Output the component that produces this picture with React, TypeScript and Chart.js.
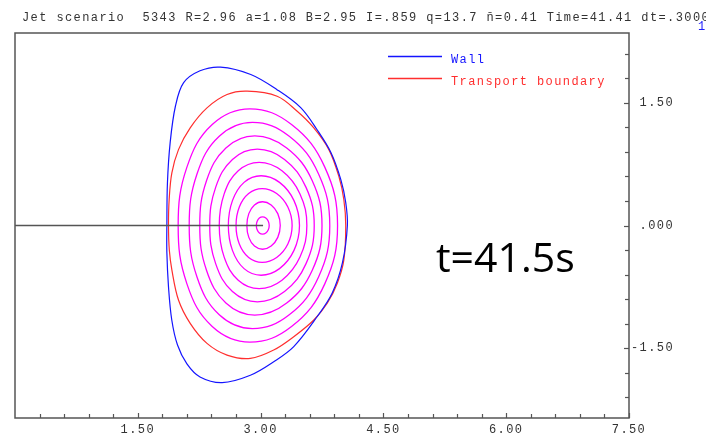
import React, { useEffect, useRef } from 'react';
import { Chart, registerables } from 'chart.js';

Chart.register(...registerables);

// ---------- texts ----------
const TITLE = 'Jet scenario  5343 R=2.96 a=1.08 B=2.95 I=.859 q=13.7 n\u0304=0.41 Time=41.41 dt=.3000';
const TIME_LABEL = 't=41.5s';
const CORNER_LABEL = '1';

// ---------- axes ----------
const xMin = 0;
const xMax = 7.5;
const yMin = -2.352;
const yMax = 2.352;
const tickStep = 0.3;
const xMajorTicks = [1.5, 3.0, 4.5, 6.0, 7.5];
const xMajorLabels = ['1.50', '3.00', '4.50', '6.00', '7.50'];
const yMajorTicks = [-1.5, 0, 1.5];
const yMajorLabels = ['-1.50', '.000', '1.50'];

// ---------- wall (R, Z) ----------
const wallR = [4.06, 4.04, 3.98, 3.86, 3.69, 3.49, 3.20, 2.88, 2.51, 2.26, 2.06, 1.96, 1.895, 1.862,
  1.855, 1.855, 1.875, 1.915, 1.985, 2.10, 2.26, 2.53, 2.875, 3.16, 3.405, 3.69, 3.875, 4.00];
const wallZ = [0.0, 0.28, 0.56, 0.89, 1.17, 1.44, 1.66, 1.845, 1.935, 1.89, 1.745, 1.46, 1.01, 0.52,
  0.0, -0.33, -0.75, -1.155, -1.46, -1.69, -1.85, -1.92, -1.83, -1.665, -1.48, -1.115, -0.825, -0.455];

// ---------- transport boundary (R, Z) ----------
const boundaryR = [4.04, 4.017, 3.956, 3.834, 3.65, 3.447, 3.202, 2.835, 2.59, 2.345, 2.14, 1.997, 1.916, 1.883,
  1.875, 1.885, 1.916, 1.997, 2.14, 2.345, 2.59, 2.875, 3.16, 3.405, 3.65, 3.814, 3.937, 4.017];
const boundaryZ = [0.0, 0.315, 0.60, 0.927, 1.193, 1.396, 1.58, 1.641, 1.60, 1.437, 1.193, 0.927, 0.642, 0.315,
  0.0, -0.30, -0.542, -0.91, -1.195, -1.44, -1.583, -1.624, -1.522, -1.359, -1.155, -0.95, -0.705, -0.42];

// ---------- inner flux surfaces, upper half from outboard midplane to inboard midplane ----------
// (lower half is the mirror image)  outermost -> innermost
const surfR = [
  [3.940, 3.784, 3.378, 2.869, 2.409, 2.100, 1.993],
  [3.845, 3.708, 3.350, 2.901, 2.495, 2.223, 2.128],
  [3.750, 3.631, 3.319, 2.929, 2.576, 2.339, 2.257],
  [3.655, 3.555, 3.292, 2.960, 2.656, 2.451, 2.379],
  [3.565, 3.481, 3.261, 2.982, 2.727, 2.555, 2.495],
  [3.475, 3.408, 3.231, 3.006, 2.798, 2.656, 2.606],
  [3.385, 3.333, 3.196, 3.019, 2.854, 2.740, 2.700],
  [3.240, 3.210, 3.129, 3.024, 2.925, 2.856, 2.832],
  [3.105, 3.094, 3.064, 3.024, 2.985, 2.958, 2.948],
];
const surfZ = [
  [0, 0.713, 1.234, 1.425, 1.234, 0.713, 0],
  [0, 0.630, 1.091, 1.260, 1.091, 0.630, 0],
  [0, 0.547, 0.947, 1.094, 0.947, 0.547, 0],
  [0, 0.466, 0.807, 0.932, 0.807, 0.466, 0],
  [0, 0.386, 0.668, 0.771, 0.668, 0.386, 0],
  [0, 0.304, 0.527, 0.608, 0.527, 0.304, 0],
  [0, 0.225, 0.390, 0.450, 0.390, 0.225, 0],
  [0, 0.145, 0.251, 0.290, 0.251, 0.145, 0],
  [0, 0.053, 0.092, 0.106, 0.092, 0.053, 0],
];

// ---------- midplane chord to magnetic axis ----------
const chordR = [0, 3.03];
const chordZ = [0, 0];

const WALL_COLOR = '#1414ff';
const BOUNDARY_COLOR = '#ff2e2e';
const SURFACE_COLOR = '#ff00ff';
const CHORD_COLOR = '#555555';
const TEXT_COLOR = '#333333';
const MONO = '12px "Liberation Mono"';
const SPACING = '1.4px';

type P = [number, number];

function zip(r: number[], z: number[]): P[] {
  return r.map((v, i) => [v, z[i]] as P);
}

function surfacePoints(i: number): P[] {
  const upper = zip(surfR[i], surfZ[i]);
  const lower = upper.slice(1, upper.length - 1).reverse().map(([r, z]) => [r, -z] as P);
  return [...upper, ...lower];
}

// closed loop with one extra point on each end so the spline is smooth at the seam;
// the two extra segments are made transparent.
function loopDataset(label: string, pts: P[], color: string, width: number, tension: number, legend: boolean) {
  const n = pts.length;
  const seq = [pts[n - 1], ...pts, pts[0], pts[1]];
  const last = n + 1;
  return {
    label,
    data: seq.map(([x, y]) => ({ x, y })),
    showLine: true,
    borderColor: color,
    backgroundColor: color,
    borderWidth: width,
    pointRadius: 0,
    pointHoverRadius: 0,
    tension,
    fill: false,
    inLegend: legend,
    segment: {
      borderColor: (ctx: any) =>
        ctx.p0DataIndex === 0 || ctx.p0DataIndex === last ? 'rgba(0,0,0,0)' : undefined,
    },
  };
}

function majorLabel(value: number, majors: number[], labels: string[]) {
  const i = majors.findIndex((m) => Math.abs(m - value) < 1e-6);
  return i >= 0 ? labels[i] : '';
}

function stepTicks(min: number, max: number) {
  const out: { value: number }[] = [];
  const k0 = Math.ceil(min / tickStep - 1e-9);
  const k1 = Math.floor(max / tickStep + 1e-9);
  for (let k = k0; k <= k1; k++) {
    if (k === 0 && min === 0) continue;
    out.push({ value: Math.round(k * tickStep * 1000) / 1000 });
  }
  return out;
}

const decorPlugin = {
  id: 'decor',
  beforeUpdate(chart: any) {
    chart.ctx.letterSpacing = SPACING;
  },
  beforeLayout(chart: any) {
    chart.ctx.letterSpacing = SPACING;
  },
  beforeDraw(chart: any) {
    const ctx = chart.ctx;
    ctx.save();
    ctx.fillStyle = '#ffffff';
    ctx.fillRect(0, 0, chart.width, chart.height);
    ctx.restore();
    ctx.letterSpacing = SPACING;
  },
  afterDraw(chart: any) {
    const ctx = chart.ctx;
    const { left, right, top, bottom } = chart.chartArea;
    ctx.save();
    // frame
    ctx.strokeStyle = '#555555';
    ctx.lineWidth = 1.5;
    ctx.strokeRect(left, top, right - left, bottom - top);
    // inward tick marks
    ctx.lineWidth = 1.2;
    const xs = chart.scales.x;
    xs.ticks.forEach((t: any) => {
      const px = Math.round(xs.getPixelForValue(t.value)) + 0.5;
      const len = t.label ? 5 : 4;
      ctx.beginPath();
      ctx.moveTo(px, bottom);
      ctx.lineTo(px, bottom - len);
      ctx.stroke();
    });
    const ys = chart.scales.y;
    ys.ticks.forEach((t: any) => {
      const py = Math.round(ys.getPixelForValue(t.value)) + 0.5;
      const len = t.label ? 5 : 4;
      ctx.beginPath();
      ctx.moveTo(right, py);
      ctx.lineTo(right - len, py);
      ctx.stroke();
    });

    // title
    ctx.font = MONO;
    ctx.letterSpacing = SPACING;
    ctx.textBaseline = 'alphabetic';
    ctx.textAlign = 'left';
    ctx.fillStyle = TEXT_COLOR;
    ctx.fillText(TITLE, 22, 21);
    ctx.fillStyle = '#2020ff';
    ctx.fillText(CORNER_LABEL, 698, 30);

    // legend
    const legendItems = chart.data.datasets.filter((d: any) => d.inLegend);
    legendItems.forEach((d: any, i: number) => {
      const y = 56 + i * 22;
      ctx.strokeStyle = d.borderColor;
      ctx.lineWidth = 1.3;
      ctx.beginPath();
      ctx.moveTo(388, y + 0.5);
      ctx.lineTo(442, y + 0.5);
      ctx.stroke();
      ctx.fillStyle = d.borderColor;
      ctx.fillText(d.label, 451, y + 6.5);
    });

    // time annotation
    ctx.letterSpacing = '0px';
    ctx.font = '41px "Open Sans"';
    ctx.fillStyle = '#000000';
    ctx.fillText(TIME_LABEL, 436, 272);
    ctx.restore();
    ctx.letterSpacing = SPACING;
  },
};

export default function App() {
  const canvasRef = useRef<HTMLCanvasElement | null>(null);

  useEffect(() => {
    if (!canvasRef.current) return;
    const datasets: any[] = [];
    datasets.push({
      label: 'chord',
      data: chordR.map((x, i) => ({ x, y: chordZ[i] })),
      showLine: true,
      borderColor: CHORD_COLOR,
      borderWidth: 1.5,
      pointRadius: 0,
      tension: 0,
      fill: false,
    });
    datasets.push(loopDataset('Wall', zip(wallR, wallZ), WALL_COLOR, 1.2, 0.35, true));
    datasets.push(loopDataset('Transport boundary', zip(boundaryR, boundaryZ), BOUNDARY_COLOR, 1.2, 0.35, true));
    surfR.forEach((_, i) => {
      datasets.push(loopDataset('surface ' + (i + 1), surfacePoints(i), SURFACE_COLOR, 1.3, 0.4, false));
    });

    const chart = new Chart(canvasRef.current, {
      type: 'scatter',
      data: { datasets },
      plugins: [decorPlugin],
      options: {
        animation: false,
        responsive: false,
        maintainAspectRatio: false,
        events: [],
        layout: { padding: { left: 15, top: 33, right: 32, bottom: 0 } },
        plugins: {
          legend: { display: false },
          tooltip: { enabled: false },
          title: { display: false },
        },
        scales: {
          x: {
            type: 'linear',
            position: 'bottom',
            min: xMin,
            max: xMax,
            bounds: 'data',
            grid: { display: false, drawTicks: false },
            border: { display: false },
            afterBuildTicks: (scale: any) => {
              scale.ticks = stepTicks(xMin, xMax);
            },
            afterFit: (scale: any) => {
              scale.height = 20;
            },
            ticks: {
              autoSkip: false,
              maxRotation: 0,
              minRotation: 0,
              padding: 5,
              color: TEXT_COLOR,
              font: { family: '"Liberation Mono"', size: 12 },
              callback: (v: any) => majorLabel(Number(v), xMajorTicks, xMajorLabels),
            },
          },
          y: {
            type: 'linear',
            position: 'right',
            min: yMin,
            max: yMax,
            bounds: 'data',
            grid: { display: false, drawTicks: false },
            border: { display: false },
            afterBuildTicks: (scale: any) => {
              scale.ticks = stepTicks(yMin, yMax);
            },
            afterFit: (scale: any) => {
              scale.width = 45;
            },
            ticks: {
              autoSkip: false,
              crossAlign: 'far',
              padding: 2,
              color: TEXT_COLOR,
              font: { family: '"Liberation Mono"', size: 12 },
              callback: (v: any) => majorLabel(Number(v), yMajorTicks, yMajorLabels),
            },
          },
        },
      } as any,
    });
    return () => chart.destroy();
  }, []);

  return (
    <div style={{ position: 'fixed', left: 0, top: 0, width: 706, height: 438, background: '#fff' }}>
      <canvas ref={canvasRef} width={706} height={438} style={{ display: 'block' }} />
    </div>
  );
}
